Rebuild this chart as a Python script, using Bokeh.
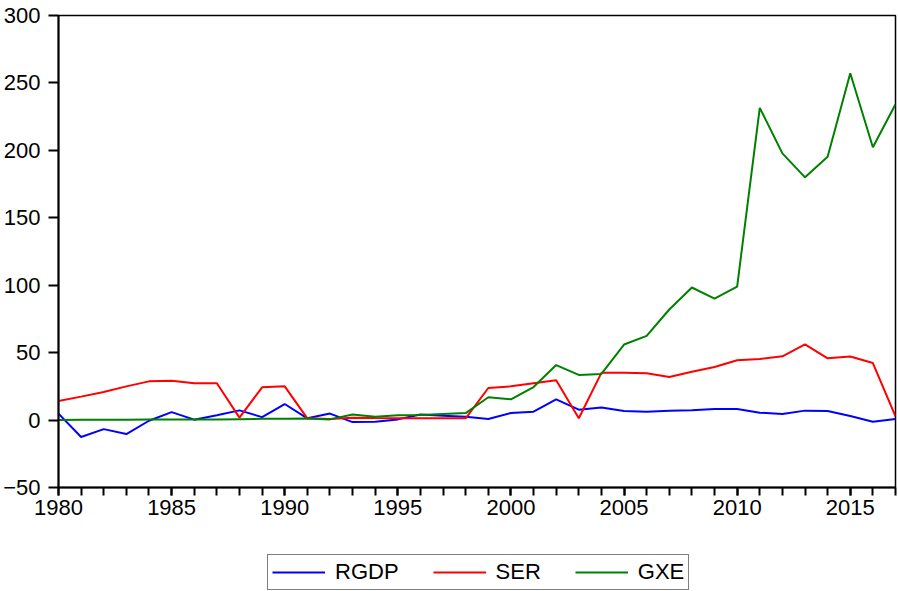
from bokeh.plotting import figure
from bokeh.models import Range1d, FixedTicker, Legend, LegendItem
from bokeh.layouts import column
from bokeh.embed import file_html
from bokeh.resources import INLINE

years = list(range(1980, 2018))
rgdp = [4.8, -12.6, -6.7, -10.4, -0.5, 5.9, 0.3, 3.5, 7.2, 2.2,
        11.9, 1.3, 4.8, -1.5, -1.3, 0.5, 4.2, 3.2, 2.5, 0.8,
        5.2, 6.2, 15.4, 7.7, 9.3, 6.8, 6.2, 7.0, 7.2, 8.2,
        8.2, 5.5, 4.5, 7.0, 6.7, 3.0, -1.2, 0.8]
ser = [14.1, 17.4, 20.8, 25.0, 28.7, 29.2, 27.3, 27.3, 1.8, 24.3,
       25.0, 1.3, 0.8, 1.8, 1.5, 1.3, 1.3, 1.3, 1.3, 23.8,
       25.0, 27.3, 29.5, 1.3, 35.0, 35.1, 34.7, 32.0, 35.9, 39.4,
       44.3, 45.3, 47.3, 56.2, 45.8, 47.1, 42.3, 2.7]
gxe = [0.1, 0.2, 0.3, 0.3, 0.4, 0.4, 0.5, 0.5, 0.7, 0.9,
       1.0, 1.1, 0.5, 4.2, 2.5, 3.5, 3.7, 4.5, 5.2, 16.9,
       15.4, 24.5, 40.8, 33.5, 34.2, 56.0, 62.4, 82.0, 98.3, 90.1,
       99.0, 231.5, 197.8, 180.0, 195.3, 257.2, 202.3, 234.2]
series_names = ["RGDP", "SER", "GXE"]
series_colors = ["#0000FF", "#FF0000", "#008000"]
x_ticks = [1980, 1985, 1990, 1995, 2000, 2005, 2010, 2015]
y_ticks = [-50, 0, 50, 100, 150, 200, 250, 300]

FONT = "Liberation Sans"
W = 898
H_MAIN = 545
H_LEG = 591 - H_MAIN

p = figure(width=W, height=H_MAIN, output_backend="svg", toolbar_location=None,
           x_range=Range1d(1980, 2017), y_range=Range1d(-50, 300),
           min_border_left=57, min_border_right=3, min_border_top=15,
           min_border_bottom=58)

for data, c in zip([rgdp, ser, gxe], series_colors):
    p.line(years, data, line_color=c, line_width=2)

p.grid.visible = False
p.outline_line_color = "black"
p.outline_line_width = 1.5

p.xaxis.ticker = FixedTicker(ticks=x_ticks, minor_ticks=years)
p.yaxis.ticker = FixedTicker(ticks=y_ticks, minor_ticks=[])
for ax in (p.xaxis, p.yaxis):
    ax.axis_line_width = 2
    ax.axis_line_color = "black"
    ax.major_tick_line_width = 2
    ax.minor_tick_line_width = 2
    ax.major_tick_line_color = "black"
    ax.minor_tick_line_color = "black"
    ax.major_tick_in = 0
    ax.minor_tick_in = 0
    ax.major_label_text_font = FONT
    ax.major_label_text_font_size = "22px"
    ax.major_label_text_color = "black"
p.xaxis.major_tick_out = 8
p.xaxis.minor_tick_out = 8
p.xaxis.major_label_standoff = 4
p.yaxis.major_tick_out = 10
p.yaxis.minor_tick_out = 0
p.yaxis.major_label_standoff = 8

# legend strip below the chart
q = figure(width=W, height=H_LEG, output_backend="svg", toolbar_location=None,
           x_range=Range1d(0, 1), y_range=Range1d(0, 1),
           x_axis_location=None, y_axis_location=None,
           min_border_left=0, min_border_right=0, min_border_top=0,
           min_border_bottom=0)
q.grid.visible = False
q.outline_line_color = None
items = []
for name, data, c in zip(series_names, [rgdp, ser, gxe], series_colors):
    r = q.line(years, data, line_color=c, line_width=2)
    r.visible = False
    items.append(LegendItem(label=name, renderers=[r]))

lg = Legend(items=items, orientation="horizontal", location=(209, 1))
lg.border_line_color = "black"
lg.border_line_width = 1.5
lg.label_text_font = FONT
lg.label_text_font_size = "22px"
lg.label_text_color = "black"
lg.glyph_width = 53
lg.glyph_height = 20
lg.label_height = 20
lg.label_standoff = 10
lg.spacing = 34
lg.padding = 4
lg.margin = 0
lg.background_fill_alpha = 1
q.add_layout(lg, "center")

layout = column(p, q, spacing=0)
open("out.html", "w").write(file_html(layout, INLINE))
